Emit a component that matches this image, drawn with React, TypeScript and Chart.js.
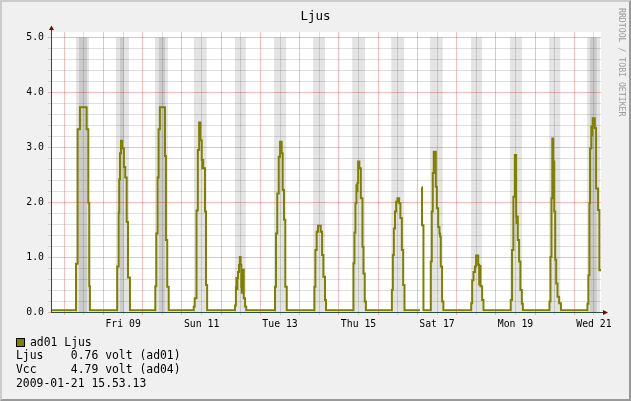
import React, { useEffect, useRef } from "react";
import { Chart, registerables } from "chart.js";

Chart.register(...registerables);

// x values are hours since 2009-01-07 00:00
const START_HOUR = 15.9;
const END_HOUR = 352.3;

// x tick labels (placed at noon of the labelled day)
const xLabelHours = [60, 108, 156, 204, 252, 300, 348];
const xLabels = ["Fri 09", "Sun 11", "Tue 13", "Thu 15", "Sat 17", "Mon 19", "Wed 21"];

// y axis
const yMax = 5.1;
const yMajorTicks = [0, 1, 2, 3, 4, 5];

// Ljus (ad01) per day: [hour of day, volt]; each value holds until the next point
const ljusJan07 = [[0, 0.03]];
const ljusJan08 = [[7.2, 0.88], [8.2, 3.33], [9.6, 3.73], [13.7, 3.33], [14.7, 1.99], [15.3, 0.47], [15.7, 0.03]];
const ljusJan09 = [[8.4, 0.83], [9.3, 1.81], [9.6, 2.42], [10.1, 2.89], [10.7, 3.12], [11.5, 2.98], [12.5, 2.64], [13.3, 2.45], [14.2, 1.64], [15.0, 0.63], [16.2, 0.03]];
const ljusJan10 = [[7.7, 0.47], [8.3, 1.43], [9.1, 2.45], [9.7, 3.33], [10.5, 3.73], [13.6, 2.84], [14.2, 1.31], [15.0, 0.46], [15.9, 0.03]];
const ljusJan11 = [[7.2, 0.10], [7.8, 0.25], [8.9, 1.85], [9.7, 2.95], [10.5, 3.45], [11.3, 3.13], [12.1, 2.77], [12.4, 2.62], [12.7, 2.77], [13.0, 2.62], [14.1, 1.83], [14.7, 0.49], [15.4, 0.03]];
const ljusJan12 = [[8.4, 0.12], [9.0, 0.45], [9.3, 0.62], [9.6, 0.42], [9.9, 0.62], [10.3, 0.73], [10.9, 0.86], [11.4, 1.0], [11.9, 0.86], [12.3, 0.45], [12.6, 0.35], [13.0, 0.77], [13.8, 0.25], [14.6, 0.10], [15.3, 0.03]];
const ljusJan13 = [[8.9, 0.46], [9.5, 1.43], [10.3, 2.16], [11.2, 2.83], [12.0, 3.10], [13.0, 2.89], [13.6, 2.22], [14.4, 1.68], [15.2, 0.46], [16.1, 0.03]];
const ljusJan14 = [[9.0, 0.46], [9.6, 1.13], [10.4, 1.46], [11.2, 1.57], [12.9, 1.46], [13.7, 1.04], [14.5, 0.64], [15.5, 0.22], [16.1, 0.03]];
const ljusJan15 = [[8.9, 0.89], [9.5, 1.45], [10.1, 1.98], [10.7, 2.31], [11.0, 2.20], [11.3, 2.35], [11.75, 2.74], [12.5, 2.62], [13.4, 2.07], [14.4, 1.19], [15.0, 0.70], [15.8, 0.19], [16.5, 0.03]];
const ljusJan16 = [[8.4, 0.40], [9.0, 1.04], [9.6, 1.52], [10.3, 1.83], [11.0, 2.01], [11.8, 2.07], [12.85, 1.98], [13.6, 1.71], [14.5, 1.13], [15.3, 0.49], [16.1, 0.03]];
const ljusJan17 = [[1.6, 0.03], [1.7, null], [2.7, 2.27], [2.8, 1.58], [3.7, 0.03], [8.2, 0.92], [8.8, 1.83], [9.4, 2.53], [10.0, 2.92], [10.3, 2.80], [10.6, 2.92], [11.25, 2.28], [11.9, 1.89], [12.7, 1.55], [13.5, 1.43], [13.9, 1.37], [14.3, 0.83], [15.1, 0.19], [15.9, 0.03]];
const ljusJan18 = [[8.9, 0.16], [9.5, 0.58], [10.3, 0.73], [11.2, 0.83], [11.9, 1.03], [13.2, 0.86], [13.8, 0.50], [14.2, 0.84], [14.6, 0.47], [15.6, 0.22], [16.4, 0.03]];
const ljusJan19 = [[9.1, 0.22], [9.9, 1.13], [10.7, 2.10], [11.6, 2.86], [12.4, 1.74], [12.7, 1.62], [13.0, 1.74], [13.4, 1.31], [14.2, 0.92], [15.0, 0.40], [15.9, 0.15], [16.5, 0.03]];
const ljusJan20 = [[8.8, 0.19], [9.4, 1.00], [10.0, 2.07], [10.5, 3.16], [11.1, 2.74], [11.7, 1.83], [12.3, 0.95], [12.9, 0.52], [13.7, 0.28], [14.7, 0.16], [15.8, 0.03]];
const ljusJan21 = [[8.0, 0.15], [8.6, 0.67], [9.2, 1.98], [9.6, 2.98], [10.4, 3.38], [10.7, 3.22], [11.0, 3.38], [11.25, 3.53], [12.5, 3.35], [13.3, 2.25], [14.5, 1.86], [15.3, 0.76], [16.5, 0.76]];

const ljusDays: [number, (number | null)[][]][] = [
  [0, ljusJan07], [1, ljusJan08], [2, ljusJan09], [3, ljusJan10], [4, ljusJan11],
  [5, ljusJan12], [6, ljusJan13], [7, ljusJan14], [8, ljusJan15], [9, ljusJan16],
  [10, ljusJan17], [11, ljusJan18], [12, ljusJan19], [13, ljusJan20], [14, ljusJan21],
];

// shaded daytime bands (day index since Jan 7, start hour, end hour)
const bandTop = 5.0;
const lightBandDay = [1, 2, 3, 4, 5, 6, 7, 8, 9, 10, 11, 12, 13, 14];
const lightBandStart = [7.2, 7.6, 7.5, 7.3, 8.4, 8.3, 8.2, 8.1, 8.0, 7.8, 8.9, 8.7, 8.6, 7.8];
const lightBandEnd = [15.1, 15.6, 15.4, 15.1, 15.0, 15.7, 15.5, 16.0, 15.9, 15.5, 15.6, 15.9, 15.4, 15.7];
const darkBandDay = [1, 2, 3, 14];
const darkBandStart = [9.0, 10.1, 9.9, 9.6];
const darkBandEnd = [13.9, 12.5, 13.6, 13.7];

const LJUS_COLOR = "#808000";
const MAJOR_GRID = "rgba(230,60,60,0.35)";
const MINOR_GRID = "rgba(140,140,140,0.28)";
const AXIS_COLOR = "#2C4D43";
const ARROW_COLOR = "#7F0000";
const MONO = '"DejaVu Sans Mono", monospace';

function buildLjus() {
  const pts: { x: number; y: number | null }[] = [];
  for (const [d, arr] of ljusDays) {
    for (const [h, v] of arr) pts.push({ x: d * 24 + (h as number), y: v });
  }
  return pts;
}

function buildBands(days: number[], starts: number[], ends: number[]) {
  const pts: { x: number; y: number }[] = [{ x: 0, y: 0 }];
  days.forEach((d, i) => {
    pts.push({ x: d * 24 + starts[i], y: bandTop });
    pts.push({ x: d * 24 + ends[i], y: 0 });
  });
  pts.push({ x: END_HOUR + 5, y: 0 });
  return pts;
}

const rrdPlugin = {
  id: "rrdDecor",
  beforeDraw(chart: any) {
    const { ctx, chartArea: a } = chart;
    ctx.save();
    ctx.fillStyle = "#ffffff";
    ctx.fillRect(a.left, a.top, a.right - a.left, a.bottom - a.top);
    ctx.restore();
  },
  afterDraw(chart: any) {
    const { ctx, chartArea: a } = chart;
    const x0 = Math.round(a.left) + 0.5;
    const y0 = Math.round(a.bottom) + 0.5;
    ctx.save();
    ctx.strokeStyle = AXIS_COLOR;
    ctx.lineWidth = 1;
    ctx.beginPath();
    ctx.moveTo(x0, y0);
    ctx.lineTo(x0, a.top - 2);
    ctx.moveTo(x0, y0);
    ctx.lineTo(a.right + 2, y0);
    ctx.stroke();
    ctx.fillStyle = ARROW_COLOR;
    ctx.beginPath();
    ctx.moveTo(x0 - 2.5, a.top - 2);
    ctx.lineTo(x0 + 2.5, a.top - 2);
    ctx.lineTo(x0, a.top - 6.5);
    ctx.closePath();
    ctx.fill();
    ctx.beginPath();
    ctx.moveTo(a.right + 2, y0 - 2.5);
    ctx.lineTo(a.right + 2, y0 + 2.5);
    ctx.lineTo(a.right + 7, y0);
    ctx.closePath();
    ctx.fill();
    ctx.restore();
  },
};

export default function App() {
  const canvasRef = useRef<HTMLCanvasElement | null>(null);

  useEffect(() => {
    document.body.style.margin = "0";
    const canvas = canvasRef.current;
    if (!canvas) return;

    const xGrid: number[] = [];
    for (let h = 24; h <= END_HOUR; h += 12) xGrid.push(h);
    const yGrid: number[] = [];
    for (let i = 0; i <= 25; i++) yGrid.push(Math.round(i * 2) / 10);

    const isMajorY = (v: number) => yMajorTicks.some((m) => Math.abs(m - v) < 1e-6);
    const tickFont = { family: MONO, size: 9.8 };

    const chart = new Chart(canvas, {
      type: "line",
      data: {
        datasets: [
          {
            label: "Ljus",
            data: buildLjus(),
            stepped: true,
            borderColor: LJUS_COLOR,
            borderWidth: 2,
            borderJoinStyle: "miter",
            pointRadius: 0,
            fill: false,
            spanGaps: false,
            order: 0,
          },
          {
            label: "dark",
            data: buildBands(darkBandDay, darkBandStart, darkBandEnd),
            stepped: true,
            borderWidth: 0,
            borderColor: "rgba(0,0,0,0)",
            backgroundColor: "rgba(0,0,0,0.105)",
            fill: "origin",
            pointRadius: 0,
            order: 1,
          },
          {
            label: "light",
            data: buildBands(lightBandDay, lightBandStart, lightBandEnd),
            stepped: true,
            borderWidth: 0,
            borderColor: "rgba(0,0,0,0)",
            backgroundColor: "rgba(0,0,0,0.105)",
            fill: "origin",
            pointRadius: 0,
            order: 2,
          },
        ],
      } as any,
      options: {
        responsive: false,
        animation: false,
        devicePixelRatio: 1,
        events: [],
        layout: { padding: { left: 0, top: 32, right: 30, bottom: 0 } },
        plugins: {
          legend: { display: false },
          tooltip: { enabled: false },
          title: { display: false },
        },
        scales: {
          x: {
            type: "linear",
            min: START_HOUR,
            max: END_HOUR,
            afterBuildTicks: (s: any) => {
              s.ticks = xGrid.map((v) => ({ value: v }));
            },
            afterFit: (s: any) => {
              s.height = 89;
            },
            grid: {
              color: (c: any) => (c.tick && c.tick.value % 24 === 0 ? MAJOR_GRID : MINOR_GRID),
              lineWidth: 1,
              tickLength: 3,
              drawTicks: true,
            },
            border: { display: true, color: AXIS_COLOR, width: 1 },
            ticks: {
              autoSkip: false,
              maxRotation: 0,
              minRotation: 0,
              padding: 4,
              color: "#000",
              font: tickFont,
              callback: (v: any) => {
                const i = xLabelHours.indexOf(Number(v));
                return i >= 0 ? xLabels[i] : "";
              },
            },
          },
          y: {
            type: "linear",
            min: 0,
            max: yMax,
            afterBuildTicks: (s: any) => {
              s.ticks = yGrid.map((v) => ({ value: v }));
            },
            afterFit: (s: any) => {
              s.width = 51;
            },
            grid: {
              color: (c: any) => (c.tick && isMajorY(c.tick.value) ? MAJOR_GRID : MINOR_GRID),
              lineWidth: 1,
              tickLength: 3,
              drawTicks: true,
            },
            border: { display: true, color: AXIS_COLOR, width: 1 },
            ticks: {
              autoSkip: false,
              padding: 4,
              color: "#000",
              font: tickFont,
              callback: (v: any) => (isMajorY(Number(v)) ? Number(v).toFixed(1) : ""),
            },
          },
        },
      } as any,
      plugins: [rrdPlugin],
    });
    return () => chart.destroy();
  }, []);

  const textBase: React.CSSProperties = {
    position: "absolute",
    fontFamily: MONO,
    whiteSpace: "pre",
    color: "#000",
  };

  return (
    <div style={{ position: "relative", width: 631, height: 401, background: "#F0F0F0", overflow: "hidden" }}>
      <canvas ref={canvasRef} width={631} height={401} style={{ position: "absolute", left: 0, top: 0 }} />
      <div style={{ ...textBase, left: 0, width: 631, top: 8.4, textAlign: "center", fontSize: 12.5, lineHeight: "16px" }}>Ljus</div>
      <div
        style={{
          ...textBase,
          left: 617,
          top: 7.5,
          writingMode: "vertical-rl",
          fontSize: 8.2,
          lineHeight: "10px",
          color: "#9a9a9a",
        }}
      >
        RRDTOOL / TOBI OETIKER
      </div>
      <div style={{ position: "absolute", left: 16, top: 338, width: 9, height: 9, background: LJUS_COLOR, border: "1px solid #000", boxSizing: "border-box" }} />
      <div style={{ ...textBase, left: 30, top: 335, fontSize: 11.4, lineHeight: "14px" }}>ad01 Ljus</div>
      <div style={{ ...textBase, left: 16, top: 348.4, fontSize: 11.4, lineHeight: "14px" }}>{"Ljus    0.76 volt (ad01)"}</div>
      <div style={{ ...textBase, left: 16, top: 362.4, fontSize: 11.4, lineHeight: "14px" }}>{"Vcc     4.79 volt (ad04)"}</div>
      <div style={{ ...textBase, left: 16, top: 376.4, fontSize: 11.4, lineHeight: "14px" }}>2009-01-21 15.53.13</div>
      <div
        style={{
          position: "absolute",
          left: 0,
          top: 0,
          width: 631,
          height: 401,
          boxSizing: "border-box",
          borderTop: "2px solid #CBCBCB",
          borderLeft: "2px solid #CBCBCB",
          borderRight: "2px solid #999999",
          borderBottom: "2px solid #999999",
          pointerEvents: "none",
        }}
      />
    </div>
  );
}
